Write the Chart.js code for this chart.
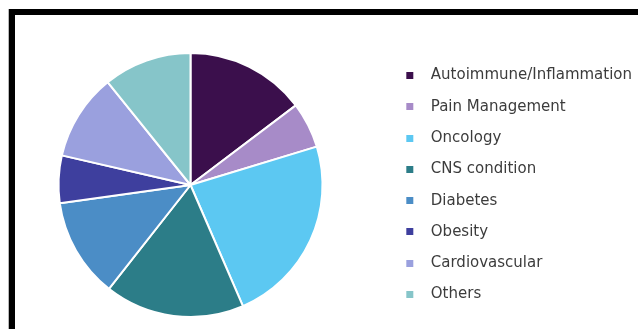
<!DOCTYPE html>
<html>
<head>
<meta charset="utf-8">
<script src="https://cdn.jsdelivr.net/npm/chart.js@4/dist/chart.umd.min.js"></script>
<style>
  html, body { margin: 0; padding: 0; background: #fff; }
  body { width: 638px; height: 329px; position: relative; overflow: hidden; }
  #frame {
    position: absolute; left: 9px; top: 9px; width: 700px; height: 400px;
    border-top: 6px solid #000; border-left: 6px solid #000;
    box-shadow: -1px 0 0 #b8b8b8;
  }
  #chartBox { position: absolute; left: 0; top: 0; width: 638px; height: 329px; }
</style>
</head>
<body>
<div id="frame"></div>
<div id="chartBox"><canvas id="chart"></canvas></div>
<script>
// 치료 분야별 비중 (%)
var areas = ['Autoimmune/Inflammation', 'Pain Management', 'Oncology', 'CNS condition',
             'Diabetes', 'Obesity', 'Cardiovascular', 'Others'];
var shares = [14.7, 5.6, 23.2, 17.1, 12.2, 5.8, 10.6, 10.8];
var colors = ['#3b0f4c', '#a78bc8', '#5cc8f2', '#2c7d88',
              '#4b8dc6', '#3e3f9e', '#9aa0de', '#86c5c9'];

/* 범례 마커: 앞쪽 여백이 있는 작은 사각형 */
function makeSwatch(color) {
    var c = document.createElement('canvas');
    c.width = 26;
    c.height = 7;
    var g = c.getContext('2d');
    g.fillStyle = color;
    g.fillRect(9, 0, 7, 7);
    return c;
}

var swatches = colors.map(makeSwatch);

var chart = new Chart(document.getElementById('chart'), {
    type: 'pie',
    data: {
        labels: areas,
        datasets: [{
            data: shares,
            backgroundColor: colors,
            borderColor: '#ffffff',
            borderWidth: 2
        }]
    },
    options: {
        responsive: true,
        maintainAspectRatio: false,
        animation: false,
        radius: 132,
        layout: { padding: { left: 0, right: 0, top: 41, bottom: 0 } },
        plugins: {
            tooltip: { enabled: false },
            legend: {
                position: 'right',
                align: 'center',
                maxWidth: 257,
                labels: {
                    usePointStyle: true,
                    pointStyleWidth: 26,
                    padding: 16.3,
                    color: '#3c3c3c',
                    font: { family: 'DejaVu Sans', size: 15 },
                    generateLabels: function (c) {
                        var items = Chart.overrides.doughnut.plugins.legend.labels.generateLabels(c);
                        items.forEach(function (item, i) {
                            item.pointStyle = swatches[i];
                            item.lineWidth = 0;
                        });
                        return items;
                    }
                }
            }
        }
    }
});
</script>
</body>
</html>
